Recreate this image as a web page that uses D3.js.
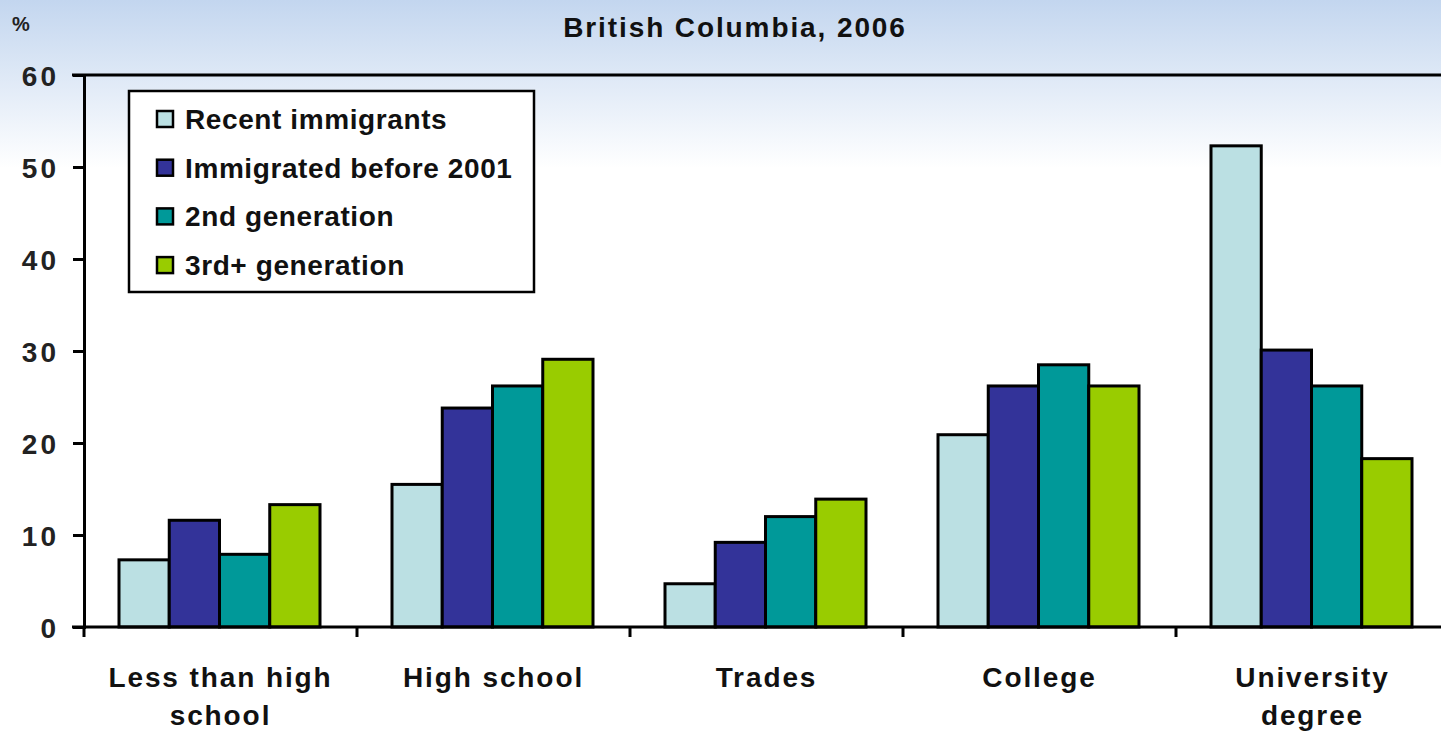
<!DOCTYPE html>
<html><head><meta charset="utf-8">
<script src="https://cdn.jsdelivr.net/npm/d3@7"></script>
<style>html,body{margin:0;padding:0;background:#fff;overflow:hidden}</style>
</head><body>
<svg id="c" width="1441" height="732"></svg>
<script>
const categories = [["Less than high","school"],["High school"],["Trades"],["College"],["University","degree"]];
const seriesNames = ["Recent immigrants","Immigrated before 2001","2nd generation","3rd+ generation"];
const recentImmigrants = [7.3, 15.5, 4.7, 20.9, 52.3];
const immigratedBefore2001 = [11.6, 23.8, 9.2, 26.2, 30.1];
const secondGeneration = [7.9, 26.2, 12.0, 28.5, 26.2];
const thirdPlusGeneration = [13.3, 29.1, 13.9, 26.2, 18.3];
const yTicks = [0,10,20,30,40,50,60];
const colors = ["#BBE0E3","#333399","#009999","#99CC00"];
const title = "British Columbia, 2006";

const series = [recentImmigrants, immigratedBefore2001, secondGeneration, thirdPlusGeneration];
const svg = d3.select("#c");
const font = "'Liberation Sans', Arial, sans-serif";

const defs = svg.append("defs");
const g = defs.append("linearGradient").attr("id","bg").attr("x1",0).attr("y1",0).attr("x2",0).attr("y2",1);
g.append("stop").attr("offset","0").attr("stop-color","#c3d6ef");
g.append("stop").attr("offset","0.23").attr("stop-color","#ffffff");
g.append("stop").attr("offset","1").attr("stop-color","#ffffff");
svg.append("rect").attr("width",1441).attr("height",732).attr("fill","url(#bg)");

const x0 = 84, bandW = 273, yTop = 75, yBot = 627;
const x = d3.scaleBand().domain(d3.range(categories.length)).range([x0, x0 + bandW*categories.length]).paddingInner(0).paddingOuter(0);
const xi = d3.scaleBand().domain(d3.range(series.length)).range([35, 35+201]);
const y = d3.scaleLinear().domain([0,60]).range([yBot, yTop]);

// title
svg.append("text").attr("x",735).attr("y",37).attr("text-anchor","middle")
  .attr("font-family",font).attr("font-weight","bold").attr("font-size",28).attr("letter-spacing",1.9).attr("fill","#111").text(title);
svg.append("text").attr("x",12).attr("y",31).attr("font-family",font).attr("font-weight","bold").attr("font-size",20).attr("fill","#222").text("%");

// bars
series.forEach((vals, si) => {
  svg.append("g").selectAll("rect").data(vals).join("rect")
    .attr("x",(d,i)=>x(i)+xi(si))
    .attr("y",d=>y(d))
    .attr("width",xi.bandwidth())
    .attr("height",d=>yBot - y(d))
    .attr("fill",colors[si]).attr("stroke","#000").attr("stroke-width",3);
});

// top line of plot area
svg.append("line").attr("x1",72).attr("x2",1441).attr("y1",yTop).attr("y2",yTop).attr("stroke","#000").attr("stroke-width",3);

// y axis
const yAxis = d3.axisLeft(y).tickValues(yTicks).tickSize(11).tickPadding(14);
const ya = svg.append("g").attr("transform",`translate(${x0},0)`).call(yAxis);
ya.select(".domain").attr("stroke","#000").attr("stroke-width",3);
ya.selectAll(".tick line").attr("stroke","#000").attr("stroke-width",3);
ya.selectAll(".tick text").attr("font-family",font).attr("font-weight","bold").attr("font-size",28).attr("letter-spacing",3).attr("fill","#222").attr("dy","0.36em");

// x axis
const xaxisG = svg.append("g");
xaxisG.append("line").attr("x1",72).attr("x2",1441).attr("y1",yBot).attr("y2",yBot).attr("stroke","#000").attr("stroke-width",3);
xaxisG.selectAll("line.t").data(d3.range(categories.length)).join("line").attr("class","t")
  .attr("x1",i=>x(i)).attr("x2",i=>x(i)).attr("y1",yBot).attr("y2",yBot+10).attr("stroke","#000").attr("stroke-width",3);
xaxisG.selectAll("text").data(categories).join("text")
  .attr("x",(d,i)=>x(i)+x.bandwidth()/2).attr("y",687).attr("text-anchor","middle")
  .attr("font-family",font).attr("font-weight","bold").attr("font-size",28).attr("letter-spacing",1.9).attr("fill","#111")
  .each(function(d){ const cx = d3.select(this).attr("x"); d3.select(this).selectAll("tspan").data(d).join("tspan").attr("x",cx).attr("dy",(t,j)=>j?38:0).text(t=>t); });

// legend
const lg = svg.append("g");
lg.append("rect").attr("x",129).attr("y",91).attr("width",405).attr("height",201).attr("fill","#fff").attr("stroke","#000").attr("stroke-width",2.5);
const rows = lg.selectAll("g").data(seriesNames).join("g").attr("transform",(d,i)=>`translate(157,${119 + i*48.7})`);
rows.append("rect").attr("x",0).attr("y",-8).attr("width",16).attr("height",16).attr("fill",(d,i)=>colors[i]).attr("stroke","#000").attr("stroke-width",2.5);
rows.append("text").attr("x",28).attr("y",10).attr("font-family",font).attr("font-weight","bold").attr("font-size",28).attr("letter-spacing",0.6).attr("fill","#111").text(d=>d);
</script>
</body></html>
